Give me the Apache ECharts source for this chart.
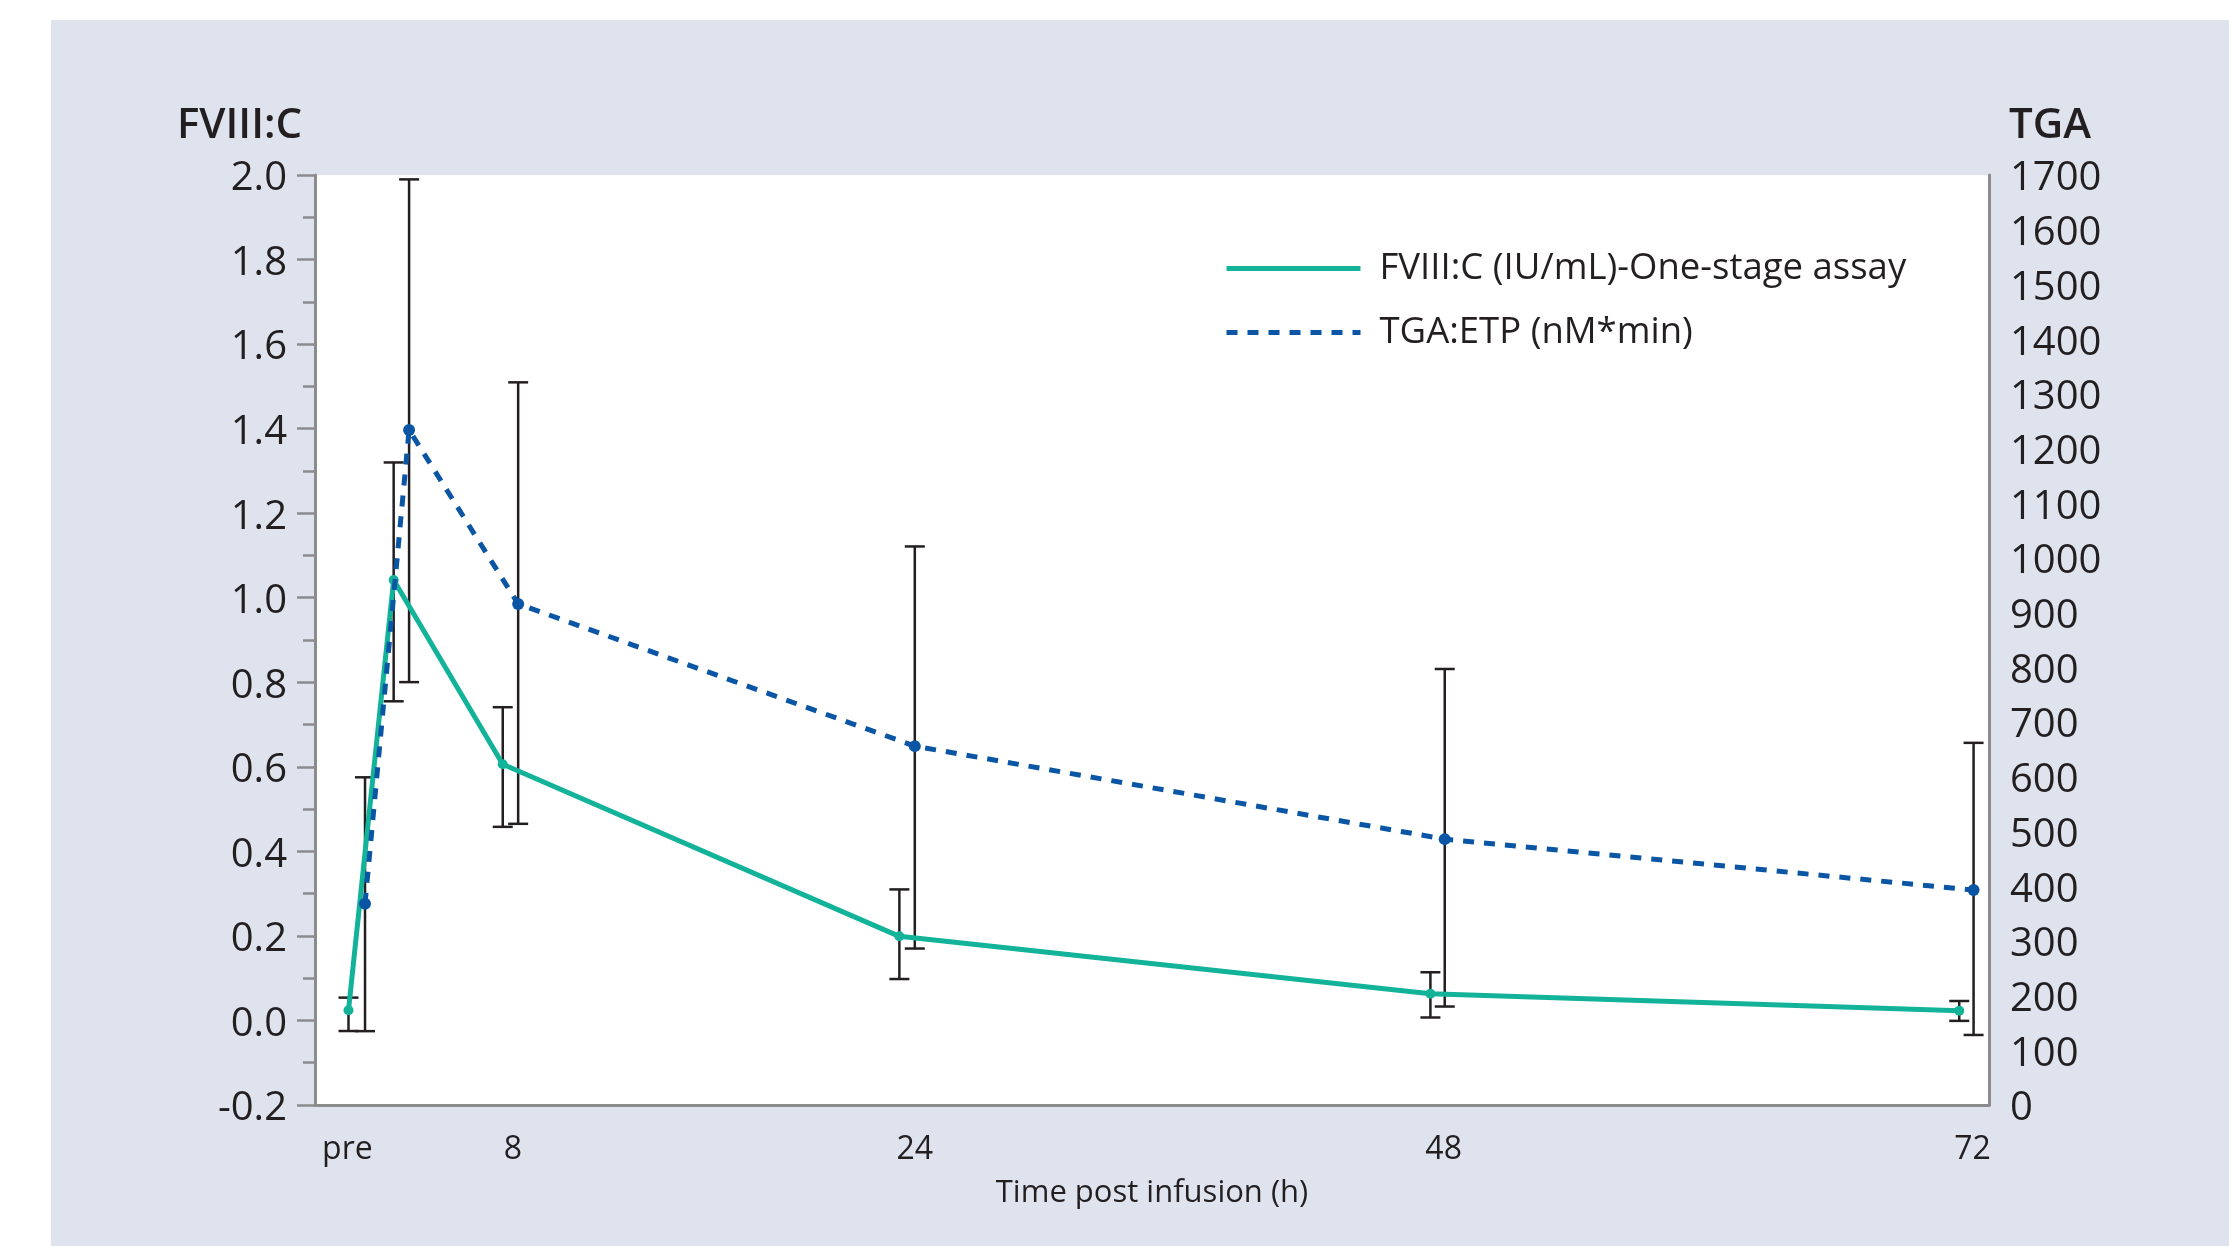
<!DOCTYPE html>
<html>
<head>
<meta charset="utf-8">
<script src="https://cdn.jsdelivr.net/npm/echarts@6/dist/echarts.min.js"></script>
<style>
html,body{margin:0;padding:0;background:#ffffff;}
#chart{width:2229px;height:1246px;}
</style>
</head>
<body>
<div id="chart"></div>
<script>
// ---- data ----
const xTickLabels = ['pre', '8', '24', '48', '72'];
const xTickPos    = [-1.75, 5.76, 24, 48, 72];

const fviiiX    = [-1.7, 0.35, 5.3, 23.3, 47.4, 71.4];
const fviiiMean = [0.024, 1.042, 0.606, 0.199, 0.063, 0.023];
const fviiiLow  = [-0.025, 0.755, 0.458, 0.098, 0.007, -0.001];
const fviiiHigh = [0.054, 1.320, 0.741, 0.310, 0.114, 0.046];

const tgaX    = [-0.95, 1.05, 6.0, 24.0, 48.05, 72.05];
const tgaMean = [368, 1234, 916, 656, 486, 393];
const tgaLow  = [135, 773, 514, 286, 180, 128];
const tgaHigh = [599, 1692, 1321, 1021, 797, 662];

const seriesNames = ['FVIII:C (IU/mL)-One-stage assay', 'TGA:ETP (nM*min)'];
const axisTitles = ['FVIII:C', 'TGA'];
const xAxisTitle = 'Time post infusion (h)';

// ---- build ----
const FONT = '"Open Sans", "Noto Sans", sans-serif';
const TXT = '#231f20';
const AXIS = '#8c8c8c';
const TEAL = '#13b39a';
const BLUE = '#0a56a5';

const fviiiLine = fviiiX.map((x, i) => [x, fviiiMean[i]]);
const tgaLine = tgaX.map((x, i) => [x, tgaMean[i]]);
const fviiiErr = fviiiX.map((x, i) => [x, fviiiLow[i], fviiiHigh[i]]);
const tgaErr = tgaX.map((x, i) => [x, tgaLow[i], tgaHigh[i]]);

function errRender(params, api) {
  const x = api.value(0);
  const pLo = api.coord([x, api.value(1)]);
  const pHi = api.coord([x, api.value(2)]);
  const hw = 10;
  const style = { stroke: '#231f20', lineWidth: 2.5, fill: null };
  return {
    type: 'group',
    children: [
      { type: 'line', shape: { x1: pLo[0], y1: pLo[1], x2: pHi[0], y2: pHi[1] }, style: style },
      { type: 'line', shape: { x1: pLo[0] - hw, y1: pLo[1], x2: pLo[0] + hw, y2: pLo[1] }, style: style },
      { type: 'line', shape: { x1: pHi[0] - hw, y1: pHi[1], x2: pHi[0] + hw, y2: pHi[1] }, style: style }
    ]
  };
}

const chart = echarts.init(document.getElementById('chart'), null, { renderer: 'canvas' });

const option = {
  animation: false,
  textStyle: { fontFamily: FONT, color: TXT },
  graphic: [
    { type: 'rect', z: -100, silent: true,
      shape: { x: 51, y: 20, width: 2229 - 51, height: 1246 - 20 },
      style: { fill: '#dee3ee' } },
    { type: 'text', z: 10, left: 177, top: 105,
      style: { text: axisTitles[0], font: '600 42px ' + FONT, fill: TXT } },
    { type: 'text', z: 10, left: 2009, top: 105,
      style: { text: axisTitles[1], font: '600 42px ' + FONT, fill: TXT } }
  ],
  grid: {
    left: 315, right: 240, top: 175, bottom: 141,
    show: true, backgroundColor: '#ffffff', borderWidth: 0
  },
  legend: {
    orient: 'vertical',
    left: 1219, top: 245,
    itemWidth: 134, itemHeight: 22, itemGap: 27,
    data: [
      { name: seriesNames[0], lineStyle: { width: 5, color: TEAL, type: 'solid' } },
      { name: seriesNames[1], lineStyle: { width: 5, color: BLUE, type: [11, 10] } }
    ],
    itemStyle: { opacity: 0 },
    textStyle: { fontSize: 36.5, color: TXT, fontFamily: FONT, padding: [0, 0, 0, 14] }
  },
  xAxis: {
    type: 'value',
    min: -3.22, max: 72.75,
    name: xAxisTitle,
    nameLocation: 'middle',
    nameGap: 73,
    nameTextStyle: { fontSize: 31, color: TXT, fontFamily: FONT },
    axisLine: { show: true, onZero: false, lineStyle: { color: AXIS, width: 3 } },
    axisTick: { show: false },
    splitLine: { show: false },
    axisLabel: {
      customValues: xTickPos,
      fontSize: 32, color: TXT, margin: 29, fontFamily: FONT,
      formatter: function (v) {
        const i = xTickPos.findIndex(p => Math.abs(p - v) < 1e-6);
        return i >= 0 ? xTickLabels[i] : '';
      }
    }
  },
  yAxis: [
    {
      type: 'value', position: 'left',
      min: -0.2, max: 2.0, interval: 0.2,
      axisLine: { show: true, onZero: false, lineStyle: { color: AXIS, width: 3 } },
      axisTick: { show: true, inside: false, length: 18, lineStyle: { color: AXIS, width: 2.5 } },
      minorTick: { show: true, splitNumber: 2, length: 12, lineStyle: { color: AXIS, width: 2.5 } },
      splitLine: { show: false },
      axisLabel: {
        fontSize: 40, color: TXT, margin: 28, fontFamily: FONT,
        verticalAlign: 'top', lineHeight: 8,
        formatter: v => (Math.abs(v) < 1e-9 ? 0 : v).toFixed(1)
      }
    },
    {
      type: 'value', position: 'right',
      min: 0, max: 1700, interval: 100,
      axisLine: { show: true, onZero: false, lineStyle: { color: AXIS, width: 3 } },
      axisTick: { show: false },
      splitLine: { show: false },
      axisLabel: {
        fontSize: 40, color: TXT, margin: 21, fontFamily: FONT,
        verticalAlign: 'top', lineHeight: 8,
        formatter: v => String(Math.round(v))
      }
    }
  ],
  series: [
    {
      name: 'fviii-err', type: 'custom', xAxisIndex: 0, yAxisIndex: 0, z: 1,
      renderItem: errRender, encode: { x: 0, y: [1, 2] }, data: fviiiErr, silent: true
    },
    {
      name: 'tga-err', type: 'custom', xAxisIndex: 0, yAxisIndex: 1, z: 1,
      renderItem: errRender, encode: { x: 0, y: [1, 2] }, data: tgaErr, silent: true
    },
    {
      name: seriesNames[0], type: 'line', yAxisIndex: 0, z: 3,
      data: fviiiLine,
      color: TEAL,
      symbol: 'circle', symbolSize: 10,
      lineStyle: { width: 5, color: TEAL },
      itemStyle: { color: TEAL }
    },
    {
      name: seriesNames[1], type: 'line', yAxisIndex: 1, z: 4,
      data: tgaLine,
      color: BLUE,
      symbol: 'circle', symbolSize: 12,
      lineStyle: { width: 5, color: BLUE, type: [11, 10] },
      itemStyle: { color: BLUE }
    }
  ]
};

chart.setOption(option);
</script>
</body>
</html>
